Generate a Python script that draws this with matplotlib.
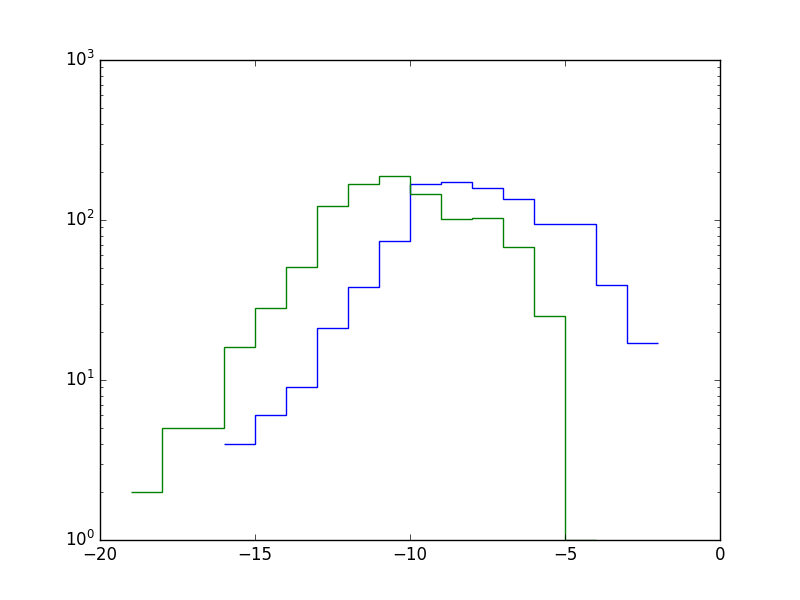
import matplotlib
matplotlib.use("Agg")
import matplotlib.pyplot as plt
import numpy as np

plt.style.use("classic")

# bin edges and counts per bin
blue_edges = [-16, -15, -14, -13, -12, -11, -10, -9, -8, -7, -6, -5, -4, -3, -2]
blue_counts = [4, 6, 9, 21, 38, 74, 168, 173, 158, 135, 94, 94, 39, 17]

green_edges = [-19, -18, -17, -16, -15, -14, -13, -12, -11, -10, -9, -8, -7, -6, -5, -4]
green_counts = [2, 5, 5, 16, 28, 51, 122, 168, 188, 145, 101, 103, 68, 25, 1]

fig = plt.figure(figsize=(8, 6), dpi=100, facecolor="white")
ax = fig.add_subplot(111)

ax.stairs(blue_counts, blue_edges, baseline=None, color="b", linewidth=1.0)
ax.stairs(green_counts, green_edges, baseline=None, color="g", linewidth=1.0)

ax.set_yscale("log")
ax.set_xlim(-20, 0)
ax.set_ylim(1, 1000)

fig.savefig("out.png", dpi=100, facecolor="white")
